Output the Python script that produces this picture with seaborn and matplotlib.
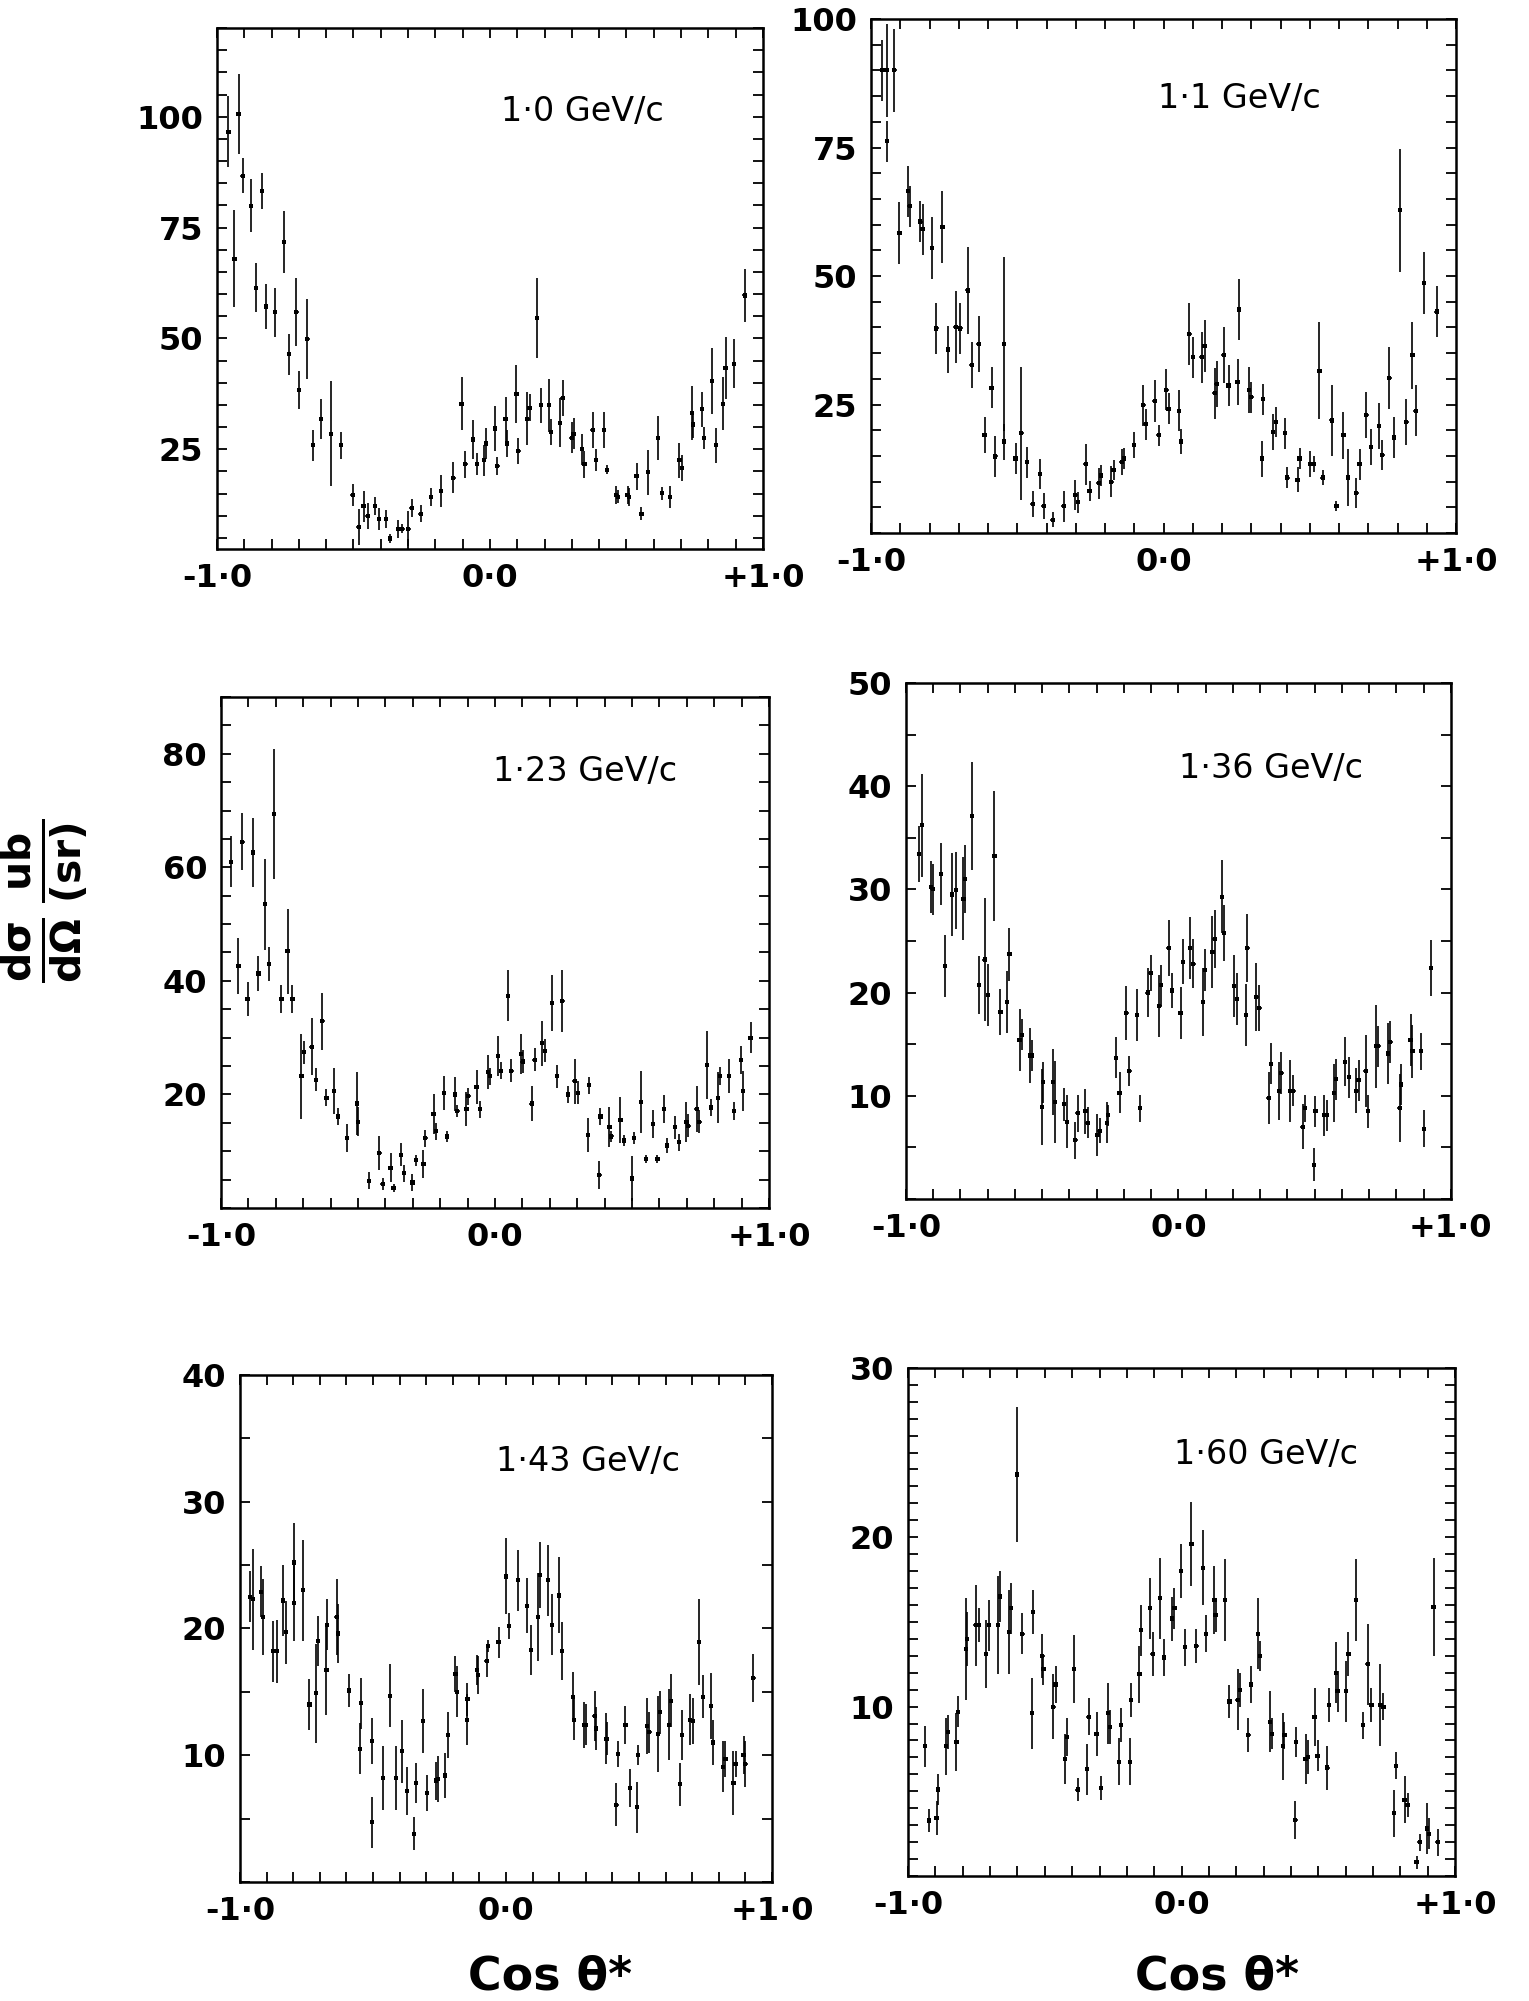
import matplotlib
matplotlib.use("Agg")
import matplotlib.pyplot as plt
from matplotlib.ticker import MultipleLocator
import pandas as pd
import seaborn as sns

sns.set_style("ticks", {"axes.edgecolor": "black", "xtick.color": "black",
                        "ytick.color": "black", "text.color": "black",
                        "axes.labelcolor": "black"})
plt.rcParams["font.family"] = ["DejaVu Sans"]
plt.rcParams["mathtext.fontset"] = "dejavusans"
plt.rcParams["mathtext.default"] = "bf"

# ---- 1.0 GeV/c ----
cos_100 = [-0.958, -0.936, -0.921, -0.906, -0.876, -0.858, -0.836, -0.821, -0.787, -0.754,
           -0.736, -0.709, -0.699, -0.669, -0.649, -0.619, -0.582, -0.545, -0.503, -0.481,
           -0.463, -0.448, -0.421, -0.406, -0.381, -0.366, -0.336, -0.321, -0.299, -0.287,
           -0.254, -0.216, -0.179, -0.134, -0.104, -0.090, -0.063, -0.048, -0.022, -0.015,
           0.018, 0.027, 0.057, 0.063, 0.097, 0.104, 0.137, 0.145, 0.172, 0.187,
           0.216, 0.224, 0.257, 0.266, 0.299, 0.306, 0.336, 0.346, 0.376, 0.388,
           0.418, 0.428, 0.463, 0.470, 0.504, 0.510, 0.537, 0.555, 0.579, 0.616,
           0.630, 0.660, 0.694, 0.704, 0.739, 0.743, 0.776, 0.784, 0.813, 0.828,
           0.854, 0.863, 0.893, 0.933]
xs_100 = [96.6, 68.0, 100.6, 86.7, 79.9, 61.4, 83.3, 57.2, 55.9, 71.7,
          46.4, 55.9, 38.3, 49.9, 25.9, 31.9, 28.5, 25.9, 14.7, 7.5,
          12.2, 10.0, 12.2, 9.2, 9.2, 4.9, 7.1, 7.1, 7.1, 11.7,
          10.5, 14.3, 15.6, 18.6, 35.3, 21.6, 27.2, 21.6, 22.5, 26.3,
          29.7, 21.2, 31.9, 26.3, 37.4, 24.6, 31.9, 34.4, 54.6, 34.9,
          34.9, 28.9, 31.0, 36.6, 27.6, 28.5, 25.0, 21.6, 29.3, 22.5,
          29.3, 20.4, 14.7, 14.3, 14.7, 14.3, 18.9, 10.5, 19.8, 27.6,
          15.1, 14.3, 22.5, 20.8, 33.2, 30.6, 34.0, 27.6, 40.4, 25.9,
          35.3, 43.4, 44.3, 59.7]
err_100 = [8, 11, 9, 4, 6, 5.5, 4, 5, 5.5, 7,
           4.7, 7.7, 4.3, 9, 3.5, 4.5, 11.8, 3, 2.5, 4,
           3.5, 3, 2, 2.5, 2, 1, 2, 1, 4, 2,
           2, 2, 3.5, 3.5, 6, 3, 4.5, 2.5, 3.5, 3.5,
           5, 2, 5, 3, 6.5, 3, 6, 3, 9, 4,
           6, 3, 5.5, 4, 3.5, 3.5, 3.5, 3, 4, 2.5,
           4, 1, 2, 1.5, 2, 2, 3, 1.5, 5, 5,
           1.5, 2.5, 4, 3, 6, 3, 4, 2.5, 7.5, 4,
           6, 7, 5.5, 6]

# ---- 1.1 GeV/c ----
cos_110 = [-0.961, -0.945, -0.921, -0.945, -0.903, -0.874, -0.868, -0.832, -0.824, -0.792,
           -0.777, -0.756, -0.737, -0.711, -0.695, -0.670, -0.656, -0.632, -0.612, -0.588,
           -0.575, -0.546, -0.546, -0.506, -0.486, -0.467, -0.447, -0.423, -0.410, -0.379,
           -0.341, -0.302, -0.292, -0.266, -0.253, -0.222, -0.214, -0.179, -0.171, -0.143,
           -0.135, -0.101, -0.069, -0.061, -0.030, -0.017, 0.009, 0.017, 0.053, 0.060,
           0.088, 0.101, 0.130, 0.140, 0.175, 0.182, 0.206, 0.222, 0.253, 0.258,
           0.292, 0.300, 0.336, 0.340, 0.374, 0.384, 0.415, 0.423, 0.458, 0.465,
           0.502, 0.513, 0.533, 0.544, 0.575, 0.591, 0.615, 0.630, 0.659, 0.670,
           0.693, 0.709, 0.737, 0.748, 0.772, 0.788, 0.808, 0.830, 0.851, 0.862,
           0.890, 0.934]
xs_110 = [90.0, 90.0, 90.0, 76.2, 58.4, 66.5, 63.6, 60.6, 59.1, 55.4,
          39.8, 59.5, 35.7, 40.1, 39.8, 47.2, 32.7, 36.8, 19.0, 28.3,
          14.9, 36.8, 17.8, 14.5, 19.4, 13.8, 5.6, 11.5, 5.2, 2.6,
          5.2, 7.4, 6.0, 13.4, 8.2, 9.7, 11.2, 10.0, 12.3, 13.8,
          14.5, 17.1, 24.9, 21.2, 25.7, 19.0, 27.9, 24.2, 23.8, 17.8,
          38.7, 34.2, 34.2, 36.4, 27.2, 29.0, 34.6, 28.7, 29.4, 43.5,
          27.9, 26.4, 14.5, 26.0, 19.7, 21.6, 19.4, 10.8, 10.4, 14.5,
          13.4, 13.4, 31.6, 10.8, 21.9, 5.2, 19.0, 10.8, 7.8, 13.4,
          23.0, 16.7, 20.8, 15.2, 30.1, 18.6, 62.8, 21.6, 34.6, 23.8,
          48.7, 43.1]
err_110 = [6, 9, 8, 4, 6, 5, 4, 4, 5, 6,
           5, 7, 4.5, 7, 5, 8.5, 4.5, 5.5, 3.5, 4,
           4, 17, 3.5, 3, 13, 3, 2.5, 3, 2.5, 1.5,
           3, 3, 2, 4, 2, 3, 2, 3, 2, 2.5,
           2, 2.5, 4, 3, 4, 2, 4, 3, 4, 2.5,
           6, 4, 5, 5, 5, 4.5, 5.5, 4, 4.5, 6,
           4.5, 3, 3.5, 3, 3.5, 3, 3, 2, 2.5, 2,
           2.5, 1.5, 9.5, 1.5, 7, 1, 4.5, 5.5, 3, 3,
           4.5, 3.5, 4.5, 3, 6, 4, 12, 4.5, 6.5, 5,
           6, 5]

# ---- 1.23 GeV/c ----
cos_123 = [-0.963, -0.936, -0.922, -0.903, -0.884, -0.863, -0.840, -0.824, -0.806, -0.779,
           -0.757, -0.739, -0.706, -0.697, -0.669, -0.652, -0.630, -0.615, -0.587, -0.572,
           -0.540, -0.504, -0.500, -0.460, -0.422, -0.410, -0.381, -0.370, -0.343, -0.331,
           -0.301, -0.288, -0.261, -0.254, -0.224, -0.216, -0.187, -0.175, -0.145, -0.137,
           -0.104, -0.097, -0.067, -0.055, -0.025, -0.019, 0.012, 0.022, 0.048, 0.060,
           0.094, 0.101, 0.134, 0.145, 0.172, 0.182, 0.209, 0.227, 0.246, 0.266,
           0.291, 0.303, 0.339, 0.343, 0.381, 0.385, 0.418, 0.425, 0.458, 0.470,
           0.500, 0.507, 0.533, 0.552, 0.578, 0.593, 0.616, 0.627, 0.657, 0.672,
           0.699, 0.706, 0.736, 0.746, 0.773, 0.788, 0.813, 0.821, 0.855, 0.873,
           0.899, 0.905, 0.933]
xs_123 = [61.0, 42.6, 64.5, 36.8, 62.6, 41.3, 53.5, 42.9, 69.4, 36.8,
          45.2, 36.8, 23.2, 27.4, 28.4, 22.6, 32.9, 19.4, 20.6, 16.1,
          12.3, 18.4, 15.2, 4.8, 9.7, 4.2, 7.1, 3.5, 9.4, 6.1,
          4.5, 8.4, 7.7, 12.3, 16.5, 13.5, 20.3, 12.6, 20.0, 17.1,
          17.4, 19.7, 21.3, 17.4, 23.9, 23.2, 26.8, 24.2, 37.4, 24.2,
          27.1, 25.8, 18.4, 26.1, 29.0, 27.7, 36.1, 23.2, 36.5, 20.0,
          22.3, 20.3, 12.9, 21.6, 5.8, 16.1, 14.2, 12.6, 15.5, 11.9,
          5.2, 12.3, 18.7, 8.7, 14.8, 8.7, 17.4, 11.0, 14.2, 11.6,
          15.2, 14.5, 17.4, 15.2, 25.2, 17.7, 19.4, 23.2, 23.2, 17.1,
          26.1, 20.6, 30.0]
err_123 = [4.5, 5, 5, 3, 6, 3, 8, 3, 11.5, 2.5,
           7.5, 2.5, 7.5, 2, 5, 2, 5, 1.5, 4, 1.5,
           2.5, 5.5, 2.5, 1.5, 3, 1, 2.5, 0.7, 2, 1.5,
           1.5, 1, 2.5, 1.5, 3.5, 1.5, 3, 1, 3, 1,
           3, 1.5, 3, 1.5, 3, 1.5, 3.5, 1.5, 4.5, 2,
           3.5, 2, 3, 2, 4, 2, 5, 2, 5.5, 1.5,
           4, 2, 3, 1.5, 2.5, 1.5, 3.5, 1, 4, 1,
           4, 1, 5.5, 0.7, 2.5, 0.7, 2.5, 1.3, 2, 1.5,
           3.5, 2, 4, 2, 6, 1.5, 4.5, 1.6, 3, 1.6,
           2.5, 3.5, 2.7]

# ---- 1.36 GeV/c ----
cos_136 = [-0.953, -0.941, -0.909, -0.902, -0.872, -0.856, -0.831, -0.817, -0.789, -0.784,
           -0.758, -0.731, -0.711, -0.698, -0.675, -0.653, -0.628, -0.620, -0.583, -0.575,
           -0.544, -0.539, -0.500, -0.497, -0.461, -0.453, -0.419, -0.409, -0.378, -0.370,
           -0.341, -0.333, -0.297, -0.289, -0.261, -0.258, -0.230, -0.216, -0.191, -0.180,
           -0.152, -0.141, -0.113, -0.102, -0.070, -0.063, -0.036, -0.023, 0.008, 0.016,
           0.042, 0.055, 0.091, 0.097, 0.125, 0.133, 0.161, 0.167, 0.203, 0.214,
           0.247, 0.253, 0.286, 0.297, 0.331, 0.339, 0.370, 0.378, 0.411, 0.422,
           0.456, 0.464, 0.497, 0.503, 0.536, 0.544, 0.570, 0.578, 0.612, 0.625,
           0.653, 0.661, 0.687, 0.695, 0.727, 0.734, 0.770, 0.778, 0.812, 0.817,
           0.852, 0.859, 0.891, 0.902, 0.927]
xs_136 = [33.4, 36.2, 30.2, 30.0, 31.5, 22.6, 29.5, 29.9, 29.1, 31.0,
          37.1, 20.7, 23.2, 19.8, 33.2, 18.1, 19.1, 23.7, 15.4, 15.9,
          13.9, 13.9, 8.9, 11.3, 11.3, 9.4, 9.2, 7.5, 5.7, 8.3,
          8.5, 7.4, 6.2, 6.6, 7.4, 8.1, 13.7, 10.3, 18.0, 12.4,
          17.8, 8.8, 20.0, 21.9, 18.7, 20.7, 24.3, 20.2, 18.0, 23.0,
          24.3, 22.8, 19.1, 22.2, 23.9, 25.2, 29.3, 25.8, 20.6, 19.4,
          17.8, 24.3, 19.6, 18.5, 9.8, 13.1, 10.5, 12.2, 10.5, 10.5,
          7.0, 8.8, 3.3, 8.5, 8.1, 8.1, 10.3, 11.6, 13.3, 11.8,
          10.5, 11.5, 12.4, 8.5, 14.8, 14.8, 14.1, 15.2, 8.8, 11.1,
          15.4, 14.3, 14.3, 6.8, 22.4]
err_136 = [2.7, 5, 2.5, 2.5, 3, 3, 4, 3.7, 4, 3.3,
           5.2, 2.8, 6, 3, 6.3, 2.2, 3, 2.6, 3, 1.5,
           2.7, 1.5, 3.7, 2, 3.2, 4, 1.6, 2.6, 1.8, 1.8,
           2.2, 1.5, 2, 1.2, 2, 1, 2, 2, 2.6, 1.5,
           2.5, 1.3, 2.4, 1.7, 3, 2, 2.7, 1.7, 2.5, 2.2,
           3, 2.4, 3.3, 2, 3.5, 2.8, 3.5, 2.7, 3, 2.5,
           3, 3.3, 3.3, 2.2, 2.5, 2, 2.8, 2, 3, 1.5,
           2.2, 1.3, 1.6, 1.5, 2, 1.5, 2.8, 2, 2.4, 2,
           2.2, 2, 3.5, 1.6, 4, 2, 3, 2, 3.3, 2,
           2.5, 2.6, 1.8, 1.8, 2.7]

# ---- 1.43 GeV/c ----
cos_143 = [-0.963, -0.951, -0.921, -0.913, -0.876, -0.861, -0.839, -0.828, -0.797, -0.797,
           -0.764, -0.739, -0.715, -0.707, -0.675, -0.672, -0.637, -0.633, -0.590, -0.545,
           -0.548, -0.503, -0.503, -0.463, -0.436, -0.413, -0.391, -0.373, -0.346, -0.339,
           -0.313, -0.297, -0.264, -0.257, -0.230, -0.219, -0.190, -0.185, -0.148, -0.145,
           -0.110, -0.104, -0.073, -0.067, -0.028, 0.000, 0.012, 0.045, 0.079, 0.094,
           0.121, 0.127, 0.157, 0.173, 0.199, 0.210, 0.251, 0.255, 0.293, 0.299,
           0.333, 0.337, 0.375, 0.381, 0.415, 0.422, 0.449, 0.467, 0.493, 0.497,
           0.530, 0.539, 0.572, 0.579, 0.612, 0.619, 0.654, 0.661, 0.691, 0.703,
           0.725, 0.740, 0.770, 0.778, 0.815, 0.825, 0.855, 0.863, 0.893, 0.900,
           0.930]
xs_143 = [22.5, 22.3, 22.9, 20.9, 18.2, 18.2, 22.2, 19.7, 25.2, 22.0,
          23.0, 14.0, 14.9, 19.0, 16.7, 20.3, 20.9, 19.6, 15.1, 14.1,
          10.5, 11.1, 4.7, 8.2, 14.7, 8.2, 10.3, 7.2, 3.8, 7.8,
          12.7, 7.0, 8.0, 8.1, 8.4, 11.6, 16.4, 15.0, 12.8, 14.4,
          16.7, 16.3, 17.4, 18.6, 18.9, 24.1, 20.2, 23.8, 21.8, 18.3,
          20.9, 24.2, 23.8, 20.3, 22.6, 18.2, 14.6, 12.8, 12.4, 12.4,
          13.1, 12.1, 11.3, 11.3, 6.1, 10.1, 12.4, 7.4, 5.9, 10.0,
          12.3, 11.8, 11.7, 13.4, 12.4, 14.3, 7.7, 11.6, 12.8, 12.7,
          18.9, 14.6, 13.9, 11.0, 9.1, 9.7, 7.8, 9.3, 10.0, 9.3,
          16.1]
err_143 = [2, 4, 2, 3, 2.4, 2.5, 2.8, 2.5, 3.1, 3,
           4, 2, 3.9, 2, 3.5, 2, 3, 2.3, 1.3, 2,
           2, 1.8, 2, 2.5, 2.5, 2.5, 2.5, 1.9, 1.3, 1.6,
           2.5, 1.4, 1.5, 1.8, 1.8, 1.8, 1.4, 2, 2, 1.3,
           1.2, 1.5, 1.2, 0.5, 1.2, 3, 1, 2.4, 2.2, 2,
           3.5, 2.6, 2.8, 2.4, 3, 2.3, 2, 1.6, 1.8, 1.6,
           2, 1.7, 2, 1.3, 1.7, 1, 1.5, 1.5, 2, 0.8,
           2.2, 1.6, 3, 1.7, 2.8, 2.1, 1.7, 2, 2, 1.8,
           3.4, 1.7, 2.6, 1.8, 2, 1.4, 2.5, 1, 1.5, 1.8,
           1.9]

# ---- 1.60 GeV/c ----
cos_160 = [-0.939, -0.924, -0.896, -0.891, -0.862, -0.854, -0.823, -0.818, -0.789, -0.784,
           -0.753, -0.741, -0.716, -0.705, -0.672, -0.665, -0.632, -0.624, -0.601, -0.582,
           -0.548, -0.543, -0.509, -0.505, -0.469, -0.461, -0.427, -0.419, -0.393, -0.380,
           -0.346, -0.340, -0.311, -0.295, -0.269, -0.261, -0.230, -0.222, -0.189, -0.186,
           -0.154, -0.148, -0.116, -0.106, -0.078, -0.065, -0.036, -0.026, -0.003, 0.012,
           0.036, 0.054, 0.078, 0.090, 0.120, 0.124, 0.158, 0.175, 0.205, 0.214,
           0.244, 0.253, 0.280, 0.287, 0.323, 0.331, 0.370, 0.376, 0.416, 0.419,
           0.453, 0.461, 0.486, 0.497, 0.533, 0.539, 0.564, 0.570, 0.602, 0.610,
           0.637, 0.663, 0.680, 0.694, 0.727, 0.738, 0.776, 0.784, 0.815, 0.826,
           0.859, 0.870, 0.898, 0.904, 0.921, 0.936]
xs_160 = [7.65, 3.27, 3.4, 5.1, 7.65, 8.5, 7.9, 9.7, 13.4, 14.0,
          14.8, 14.8, 13.1, 14.8, 14.8, 16.5, 14.4, 15.8, 23.7, 14.3,
          9.6, 15.6, 13.0, 12.2, 10.0, 11.3, 6.9, 8.2, 12.2, 5.1,
          6.3, 9.4, 8.4, 5.2, 9.6, 8.8, 6.75, 8.9, 6.75, 10.4,
          11.9, 14.5, 15.8, 13.1, 16.4, 12.9, 15.2, 15.8, 18.0, 13.5,
          19.6, 13.6, 18.2, 14.3, 16.3, 15.4, 16.3, 10.3, 10.4, 11.0,
          8.3, 11.3, 14.3, 13.0, 9.1, 8.4, 7.65, 8.3, 3.3, 7.9,
          6.9, 7.0, 9.4, 7.1, 6.4, 10.1, 12.0, 10.9, 10.9, 13.1,
          16.3, 8.9, 12.5, 10.1, 10.1, 10.0, 3.7, 6.5, 4.5, 4.2,
          0.8, 2.0, 2.8, 2.5, 15.9, 2.0]
err_160 = [1.2, 0.7, 1, 0.9, 1.7, 1, 1.7, 0.9, 3, 1.6,
           2.4, 1, 2, 1.5, 2.9, 1.5, 2.5, 1.5, 4, 1.2,
           2.1, 1.3, 1.3, 0.9, 1.9, 1.1, 1.5, 1.1, 2, 0.7,
           1.5, 1.1, 1.3, 0.7, 1.8, 1, 1.4, 1, 1.4, 1,
           1.7, 1.5, 1.8, 1.3, 2.4, 1.1, 1.3, 1.2, 1.6, 1.1,
           2.5, 1, 2.2, 1.1, 2, 1, 2.4, 1, 1.8, 1,
           1, 1.1, 2.1, 0.9, 1.8, 0.9, 2, 0.8, 1.1, 0.9,
           1.5, 1, 1.7, 0.9, 1.3, 1, 1.8, 1.2, 1.8, 1.3,
           2.4, 0.8, 2.4, 1, 2.4, 0.8, 1.4, 0.8, 1.4, 0.7,
           0.4, 0.5, 1.5, 0.9, 2.9, 0.8]

momentum_labels = ["1·0 GeV/c", "1·1 GeV/c", "1·23 GeV/c",
                   "1·36 GeV/c", "1·43 GeV/c", "1·60 GeV/c"]
x_tick_labels = ["-1·0", "0·0", "+1·0"]
y_ticks = [[25, 50, 75, 100], [25, 50, 75, 100], [20, 40, 60, 80],
           [10, 20, 30, 40, 50], [10, 20, 30, 40], [10, 20, 30]]

series = [(cos_100, xs_100, err_100), (cos_110, xs_110, err_110),
          (cos_123, xs_123, err_123), (cos_136, xs_136, err_136),
          (cos_143, xs_143, err_143), (cos_160, xs_160, err_160)]

# panel geometry (figure fractions) and styling
panel_rects = [[0.1419, 0.7256, 0.3571, 0.2604],
               [0.5697, 0.7336, 0.3826, 0.2569],
               [0.1445, 0.3963, 0.3584, 0.2554],
               [0.5925, 0.4008, 0.3564, 0.2579],
               [0.1570, 0.0595, 0.3479, 0.2534],
               [0.5939, 0.0625, 0.3578, 0.2539]]
y_ranges = [(2.5, 120), (0, 100), (0, 90), (0, 50), (0, 40), (0, 30)]
y_minor = [5, 5, 5, 5, 5, 1]
label_xy = [(0.67, 0.84), (0.63, 0.845), (0.665, 0.855),
            (0.67, 0.835), (0.655, 0.83), (0.655, 0.83)]

fig = plt.figure(figsize=(15.29, 20.01), dpi=100)

for i, (cx, ys, es) in enumerate(series):
    ax = fig.add_axes(panel_rects[i])
    df = pd.DataFrame({"cos": cx, "dsig": ys, "err": es})
    ax.errorbar(df["cos"], df["dsig"], yerr=df["err"], xerr=0.008, fmt="none",
                ecolor="black", elinewidth=1.2, capsize=0)
    sns.scatterplot(data=df, x="cos", y="dsig", ax=ax, marker="s", s=9,
                    color="black", edgecolor="none", legend=False)
    ax.set_xlim(-1, 1)
    ax.set_ylim(*y_ranges[i])
    ax.set_xticks([-1, 0, 1])
    ax.set_xticklabels(x_tick_labels)
    ax.set_yticks(y_ticks[i])
    ax.xaxis.set_minor_locator(MultipleLocator(0.1))
    ax.yaxis.set_minor_locator(MultipleLocator(y_minor[i]))
    ax.tick_params(which="both", direction="in", top=True, right=True,
                   length=7, width=1.3, colors="black")
    ax.tick_params(which="major", labelsize=23, pad=10)
    for lbl in ax.get_xticklabels() + ax.get_yticklabels():
        lbl.set_fontweight("bold")
    for sp in ax.spines.values():
        sp.set_linewidth(1.8)
        sp.set_color("black")
    ax.set_xlabel("")
    ax.set_ylabel("")
    ax.text(label_xy[i][0], label_xy[i][1], momentum_labels[i],
            transform=ax.transAxes, ha="center", va="center",
            fontsize=24, color="black")

fig.text(0.03, 0.55, r"$\frac{d\sigma}{d\Omega}\,\frac{ub}{(sr)}$",
         rotation=90, ha="center", va="center", fontsize=42, color="black")
fig.text(0.36, 0.012, "Cos θ*", ha="center", va="center",
         fontsize=33, fontweight="bold", color="black")
fig.text(0.796, 0.012, "Cos θ*", ha="center", va="center",
         fontsize=33, fontweight="bold", color="black")

fig.savefig("out.png", dpi=100, facecolor="white")
